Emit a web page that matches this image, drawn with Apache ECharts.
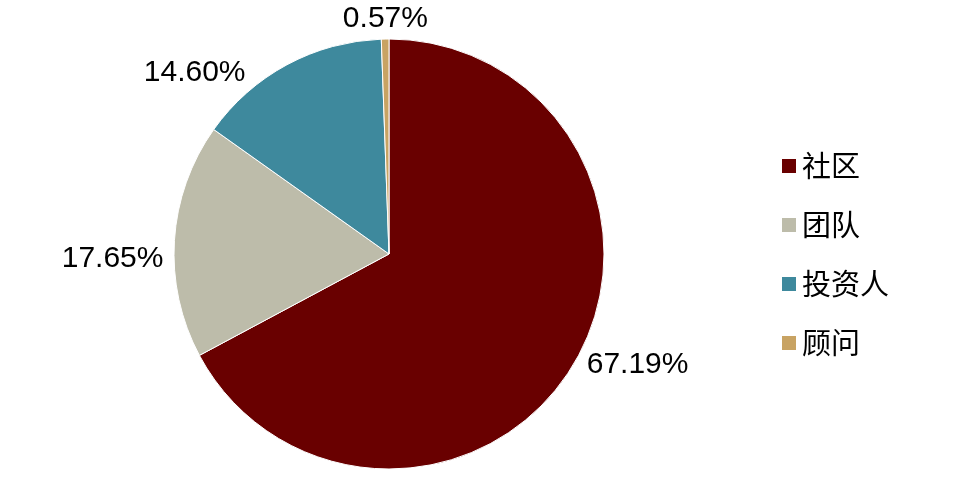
<!DOCTYPE html>
<html><head><meta charset="utf-8">
<script src="https://cdn.jsdelivr.net/npm/echarts@6/dist/echarts.min.js"></script>
<style>html,body{margin:0;padding:0;background:#fff}#c{width:962px;height:483px}</style>
</head><body><div id="c"></div>
<script>
var categories = ['社区', '团队', '投资人', '顾问'];
var values = [67.19, 17.65, 14.60, 0.57];
var colors = ['#690000', '#BDBCAA', '#3E899D', '#C8A363'];
var labelShift = [[-2, -6], [1, 19], [-27, 14], [48, -8]];

var chart = echarts.init(document.getElementById('c'));
chart.setOption({
  animation: false,
  backgroundColor: '#fff',
  color: colors,
  legend: {
    orient: 'vertical',
    left: 780,
    top: 151,
    padding: 0,
    itemWidth: 16,
    itemHeight: 16,
    itemGap: 29,
    icon: 'rect',
    textStyle: { fontFamily: '"Noto Sans CJK SC", sans-serif', fontSize: 29, color: '#000', lineHeight: 30 },
    data: categories
  },
  series: [{
    type: 'pie',
    center: [389, 254],
    radius: 215,
    startAngle: 90,
    clockwise: true,
    itemStyle: { borderColor: '#fff', borderWidth: 1 },
    label: {
      show: true,
      position: 'outside',
      fontFamily: '"Liberation Sans", Arial, sans-serif',
      fontSize: 30,
      color: '#000',
      formatter: function (p) { return p.value.toFixed(2) + '%'; }
    },
    labelLine: { show: false, length: 12, length2: 0 },
    labelLayout: function (p) {
      var s = labelShift[p.dataIndex];
      return { dx: s[0], dy: s[1] };
    },
    data: categories.map(function (c, i) { return { name: c, value: values[i] }; })
  }]
});
</script></body></html>
